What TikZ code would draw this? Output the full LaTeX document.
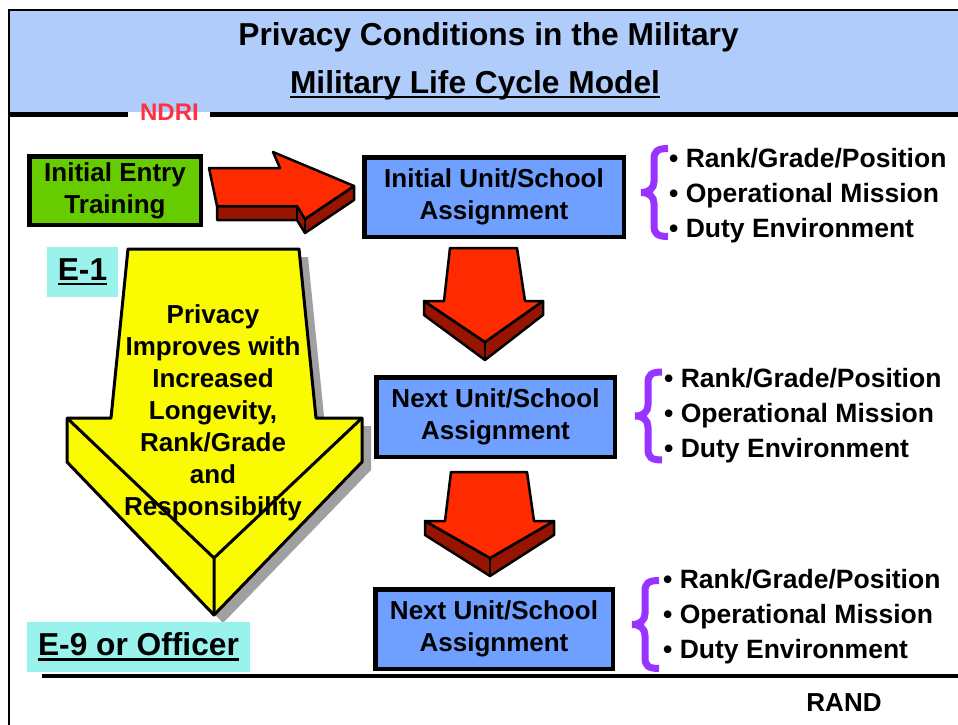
\documentclass[tikz,border=0pt]{standalone}
\usepackage{fontspec}
\setmainfont{Liberation Sans}
\definecolor{headblue}{RGB}{176,204,250}
\definecolor{boxblue}{RGB}{112,160,255}
\definecolor{entrygreen}{RGB}{102,204,0}
\definecolor{arrowred}{RGB}{255,42,0}
\definecolor{arrowdark}{RGB}{150,20,0}
\definecolor{bracepurple}{RGB}{153,51,255}
\definecolor{labelcyan}{RGB}{153,243,236}
\definecolor{ndrired}{RGB}{255,48,64}
\definecolor{yellowarrow}{RGB}{250,250,0}
\definecolor{shadowgray}{RGB}{160,160,160}
\newcommand{\titlefont}{\fontsize{31.7}{38}\selectfont\bfseries}
\newcommand{\boxfont}{\fontsize{26}{32}\selectfont\bfseries}
\newcommand{\traitfont}{\fontsize{26.5}{35}\selectfont\bfseries}
\newcommand{\ultext}[1]{\setbox0\hbox{#1}\rlap{\raisebox{-5pt}{\rule{\wd0}{2.5pt}}}\box0}

\begin{document}
\begin{tikzpicture}[x=1pt,y=-1pt,
  unitbox/.style={draw=black,line width=4.5pt,fill=boxblue,inner sep=0pt,align=center,font=\boxfont,minimum height=79.5pt},
  entrybox/.style={draw=black,line width=4.5pt,fill=entrygreen,inner sep=0pt,align=center,font=\boxfont,minimum width=171.5pt,minimum height=68.5pt},
  rankbox/.style={fill=labelcyan,inner sep=0pt,font=\titlefont,minimum height=50pt},
  traitlist/.style={anchor=west,align=left,inner sep=0pt,font=\traitfont},
  blockline/.style={draw=black,line width=2.5pt,line join=round},
  curlybrace/.pic={\draw[bracepurple,line width=7pt] (14,-44) .. controls (3,-44) and (0,-41) .. (0,-33) -- (0,-11) .. controls (0,-4) and (-5,0) .. (-13,0) .. controls (-5,0) and (0,4) .. (0,11) -- (0,33) .. controls (0,41) and (3,44) .. (14,44);}]
  \useasboundingbox (0,0) rectangle (958,725);
  \fill[headblue] (9,10) rectangle (958,112);
  \draw[line width=1.5pt] (958,10) -- (9,10) -- (9,725);
  \draw[line width=5pt] (9,114.5) -- (128,114.5);
  \draw[line width=5pt] (210,114.5) -- (958,114.5);
  \draw[line width=4pt] (42,676) -- (958,676);
  \node[font=\titlefont,anchor=base] (title) at (488.5,46) {Privacy Conditions in the Military};
  \node[font=\titlefont,anchor=base] (model) at (475,93) {\ultext{Military Life Cycle Model}};
  \node[text=ndrired,font=\fontsize{24}{28}\selectfont\bfseries] (ndri) at (169.5,112.5) {NDRI};

  \node[entrybox] (entry) at (115,190.5) {Initial Entry\\Training};
  \node[unitbox,minimum width=259.5pt] (unitA) at (494,197) {Initial Unit/School\\Assignment};
  \node[unitbox,minimum width=238.5pt] (unitB) at (495.5,417) {Next Unit/School\\Assignment};
  \node[unitbox,minimum width=237.5pt] (unitC) at (494,629) {Next Unit/School\\Assignment};

  \draw[blockline,fill=arrowdark] (217,206) -- (297,206) -- (305,219) -- (354,186) -- (354,200) -- (305,233) -- (297,220) -- (217,220) -- cycle;
  \draw[blockline,fill=arrowred] (209,168) -- (280,168) -- (273,152) -- (354,186) -- (305,219) -- (297,206) -- (217,206) -- cycle;
  \draw[blockline] (297,206) -- (297,220) (305,219) -- (305,233);

  \draw[blockline,fill=arrowdark] (424,301) -- (485,342) -- (543,301) -- (543,315) -- (485,360) -- (424,315) -- cycle;
  \draw[blockline,fill=arrowred] (450,248) -- (517,248) -- (525,301) -- (543,301) -- (485,342) -- (424,301) -- (444,301) -- cycle;
  \draw[blockline] (485,342) -- (485,360);

  \draw[blockline,fill=arrowdark] (425,521) -- (490,558) -- (554,521) -- (554,535) -- (490,576) -- (425,535) -- cycle;
  \draw[blockline,fill=arrowred] (451,472) -- (527,472) -- (534,521) -- (554,521) -- (490,558) -- (425,521) -- (445,521) -- cycle;
  \draw[blockline] (490,558) -- (490,576);

  \fill[shadowgray,shift={(9,8)}] (128,249) -- (299,249) -- (316,418) -- (362,418) -- (362,462) -- (214,615) -- (67,462) -- (67,418) -- (111,418) -- cycle;
  \draw[line width=3pt,line join=round,fill=yellowarrow] (128,249) -- (299,249) -- (316,418) -- (362,418) -- (362,462) -- (214,615) -- (67,462) -- (67,418) -- (111,418) -- cycle;
  \draw[line width=3pt,line join=round] (67,418) -- (214,558) -- (362,418) (214,558) -- (214,615);
  \node[font=\boxfont,align=center,inner sep=0pt] (privacy) at (213,413) {Privacy\\Improves with\\Increased\\Longevity,\\Rank/Grade\\and\\Responsibility};

  \node[rankbox,minimum width=71pt] (eone) at (82.5,272) {\ultext{E-1}};
  \node[rankbox,minimum width=223pt] (enine) at (138.5,647) {\ultext{E-9 or Officer}};

  \pic at (654,192.5) {curlybrace};
  \pic at (648,416) {curlybrace};
  \pic at (645,624.5) {curlybrace};
  \node[traitlist] (traitsA) at (669,196) {• Rank/Grade/Position\\• Operational Mission\\• Duty Environment};
  \node[traitlist] (traitsB) at (664,416) {• Rank/Grade/Position\\• Operational Mission\\• Duty Environment};
  \node[traitlist] (traitsC) at (663,617) {• Rank/Grade/Position\\• Operational Mission\\• Duty Environment};

  \node[font=\boxfont] (rand) at (844,703) {RAND};
\end{tikzpicture}
\end{document}
